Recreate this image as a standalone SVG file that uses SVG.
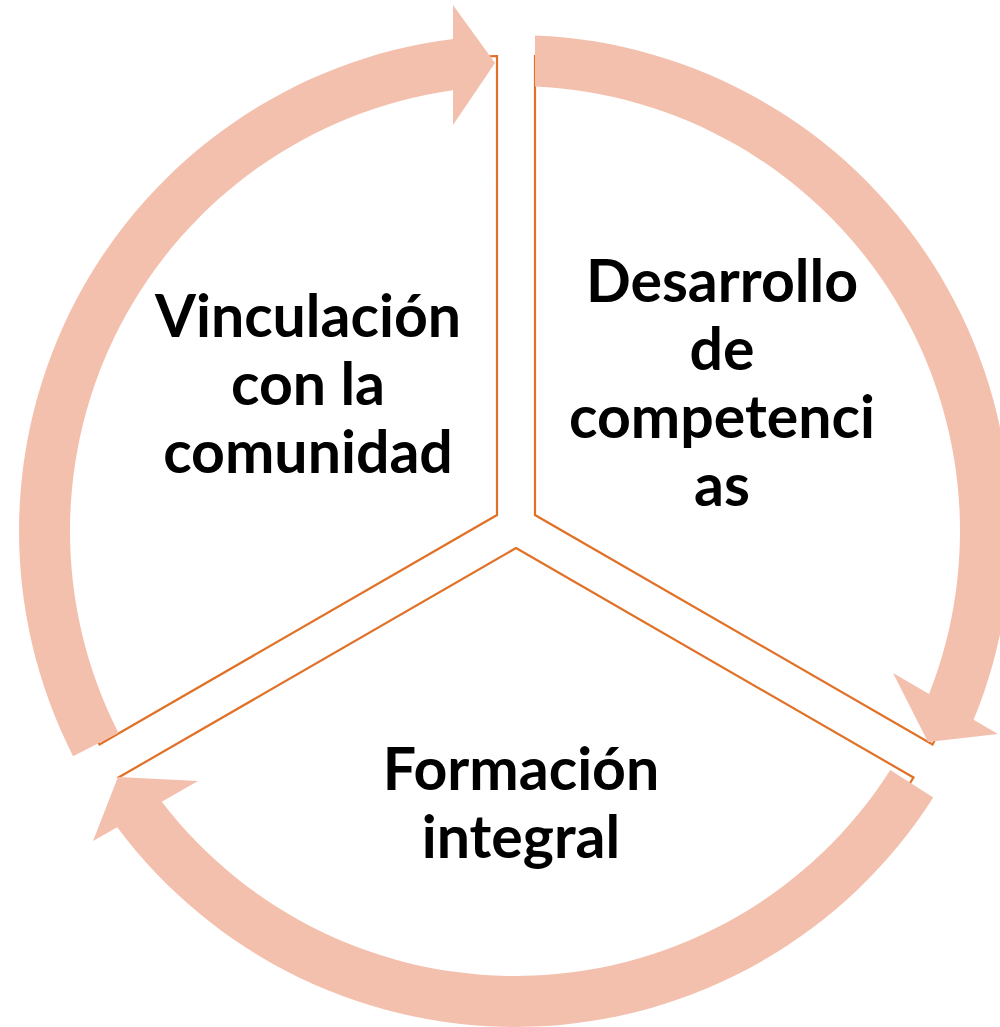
<svg xmlns="http://www.w3.org/2000/svg" width="1000" height="1027" viewBox="0 0 1000 1027">
<style>
.sector{fill:#ffffff;stroke:#E07126;stroke-width:2.2;stroke-linejoin:miter}
.arrow{fill:#F4C0AE;stroke:none}
.lbl{font-family:Lato,"Open Sans",sans-serif;font-weight:bold;font-size:59px;fill:#000;text-anchor:middle}
</style>
<g id="node-vinculacion">
<path class="sector" d="M 497 515 L 497 56 A 459 459 0 0 0 99.5 744.5 Z"/>
</g>
<g id="node-desarrollo">
<path class="sector" d="M 535 515 L 535 56 A 459 459 0 0 1 932.5 744.5 Z"/>
</g>
<g id="node-formacion">
<path class="sector" d="M 516 548 L 913.5 777.5 A 459 459 0 0 1 118.5 777.5 Z"/>
</g>
<g id="connectors">
<path class="arrow" d="M 73.1 756.2 A 496 496 0 0 1 453 38.9 L 453 5 L 495 63 L 453 125 L 453 90.3 A 445 445 0 0 0 118.5 733.0 Z"/>
<path class="arrow" d="M 535 35.4 A 496 496 0 0 1 973.6 719.8 L 998 734 L 928 742 L 893 673 L 929.1 693.9 A 445 445 0 0 0 535 86.45 Z"/>
<path class="arrow" d="M 933.3 797.5 A 496 496 0 0 1 117.2 827.2 L 93 841 L 118 777 L 198 781 L 161.8 801.7 A 445 445 0 0 0 890.3 770.1 Z"/>
</g>
<g id="labels">
<text class="lbl" x="308" y="337">Vinculación</text>
<text class="lbl" x="308" y="405">con la</text>
<text class="lbl" x="308" y="473">comunidad</text>
<text class="lbl" x="722" y="302">Desarrollo</text>
<text class="lbl" x="722" y="370">de</text>
<text class="lbl" x="722" y="438">competenci</text>
<text class="lbl" x="722" y="506">as</text>
<text class="lbl" x="521" y="790">Formación</text>
<text class="lbl" x="521" y="858">integral</text>
</g>
</svg>
